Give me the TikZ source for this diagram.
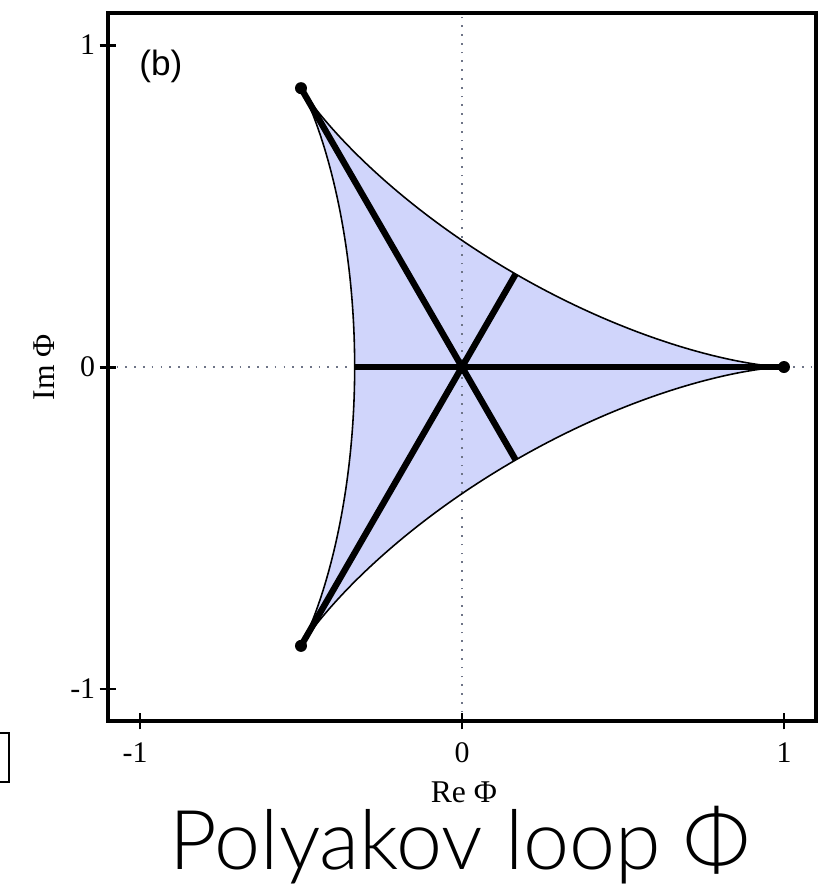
\documentclass[tikz,border=0pt]{standalone}
\usepackage{fontspec}
\setmainfont{Liberation Serif}
\newfontfamily\panelfont{Liberation Sans}
\newfontfamily\titlefont{Lato Light}
\usetikzlibrary{positioning}
\definecolor{deltoidfill}{HTML}{D0D5FB}
\definecolor{guidegray}{HTML}{6E7487}
\tikzset{
  plotframe/.style={draw=black, line width=1.15pt},
  tickmark/.style={line width=0.85pt},
  ticklabel/.style={font=\fontsize{8.5}{10}\selectfont, inner sep=0pt},
  axislabel/.style={font=\fontsize{9}{11}\selectfont, inner sep=0pt},
  guideline/.style={draw=guidegray, dotted, line width=0.5pt},
  rimline/.style={draw=black, line width=0.45pt},
  thickray/.style={draw=black, line width=1.8pt},
  vertexdot/.style={circle, fill=black, inner sep=0pt, minimum size=0.12cm}
}

\begin{document}
\begin{tikzpicture}[x=3.22cm, y=3.22cm]
  \useasboundingbox (-1.4348,-1.6087) rectangle (1.118,1.1398);
  % region of the Polyakov loop
  \fill[deltoidfill] plot[domain=0:360, samples=361] ({(2*cos(\x)+cos(2*\x))/3}, {(2*sin(\x)-sin(2*\x))/3}) -- cycle;
  \draw[guideline] (-1.1,0) -- (1.1,0);
  \draw[guideline] (0,-1.1) -- (0,1.1);
  \draw[rimline] plot[domain=0:360, samples=361] ({(2*cos(\x)+cos(2*\x))/3}, {(2*sin(\x)-sin(2*\x))/3}) -- cycle;
  % corners and rays
  \node[vertexdot] (v1) at (1,0) {};
  \node[vertexdot] (v2) at (-0.5,0.866) {};
  \node[vertexdot] (v3) at (-0.5,-0.866) {};
  \coordinate (m1) at (-1/3,0);
  \coordinate (m2) at (1/6,-0.2887);
  \coordinate (m3) at (1/6,0.2887);
  \draw[thickray] (v1.center) -- (m1);
  \draw[thickray] (v2.center) -- (m2);
  \draw[thickray] (v3.center) -- (m3);
  % frame and ticks
  \draw[plotframe] (-1.1,-1.1) rectangle (1.1,1.1);
  \foreach \v/\lab [count=\i] in {-1/{\llap{-}1},0/0,1/1}{
    \draw[tickmark] (\v,-1.125) -- (\v,-1.075);
    \node[ticklabel] (xt\i) at (\v,-1.199) {\lab};
  }
  \foreach \v/\lab [count=\i] in {-1/-1,0/0,1/1}{
    \draw[tickmark] (-1.125,\v) -- (-1.075,\v);
    \node[ticklabel, anchor=east] (yt\i) at (-1.137,\v) {\lab};
  }
  \node[axislabel] (xlab) at (0.006,-1.322) {Re Φ};
  \node[axislabel, rotate=90] (ylab) at (-1.298,0) {Im Φ};
  \node[font=\panelfont\fontsize{10}{12}\selectfont] (panel) at (-0.935,0.935) {(b)};
  \node[font=\titlefont\fontsize{23.5}{28}\selectfont, anchor=base, inner sep=0pt, text height=0.76em, text depth=0.18em] (title) at (-0.006,-1.562) {Polyakov loop Φ};
  % cut edge on the left
  \draw[line width=0.55pt] (-1.44,-1.137) -- (-1.407,-1.137) -- (-1.407,-1.289) -- (-1.44,-1.289);
\end{tikzpicture}
\end{document}
